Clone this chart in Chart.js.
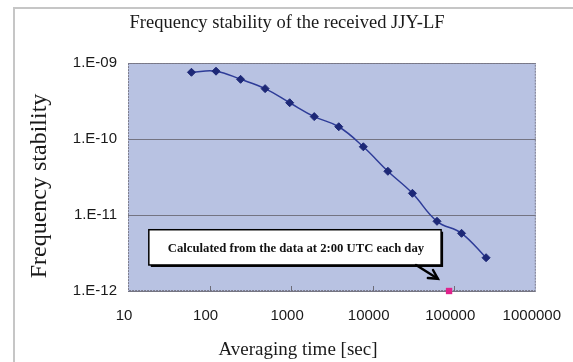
<!DOCTYPE html>
<html><head><meta charset="utf-8">
<script src="https://cdn.jsdelivr.net/npm/chart.js@4/dist/chart.umd.min.js"></script>
<style>html,body{margin:0;padding:0;background:#fff;overflow:hidden}canvas{display:block}</style>
</head><body>
<canvas id="c" width="573" height="362"></canvas>
<script>
const averagingTime = [60, 120, 240, 480, 960, 1920, 3840, 7680, 15360, 30720, 61440, 122880, 245760];
const stability = [7.55e-10, 7.8e-10, 6.1e-10, 4.6e-10, 3.0e-10, 1.97e-10, 1.45e-10, 7.9e-11, 3.76e-11, 1.93e-11, 8.26e-12, 5.74e-12, 2.74e-12];
const dailyTime = [86400];
const dailyStability = [1e-12];
const xTickValues = [10, 100, 1000, 10000, 100000, 1000000];
const xTickLabels = ['10', '100', '1000', '10000', '100000', '1000000'];
const yTickValues = [1e-12, 1e-11, 1e-10, 1e-9];
const yTickLabels = ['1.E-12', '1.E-11', '1.E-10', '1.E-09'];
const titleText = 'Frequency stability of the received JJY-LF';
const xTitle = 'Averaging time [sec]';
const yTitle = 'Frequency stability';
const noteText = 'Calculated from the data at 2:00 UTC each day';

const decor = {
  id: 'decor',
  beforeDraw(chart, args, opts) {
    const {ctx, chartArea: a} = chart;
    ctx.save();
    ctx.strokeStyle = '#c6c6c6'; ctx.lineWidth = 2;
    ctx.beginPath(); ctx.moveTo(14, 362); ctx.lineTo(14, 8); ctx.lineTo(573, 8); ctx.stroke();
    ctx.fillStyle = '#b8c2e2';
    ctx.fillRect(a.left, a.top, a.right - a.left, a.bottom - a.top);
    ctx.fillStyle = '#1a1a1a';
    ctx.textAlign = 'center'; ctx.textBaseline = 'middle';
    ctx.font = '18.5px "Liberation Serif"';
    ctx.fillText(titleText, opts.titleX, opts.titleY);
    ctx.restore();
  },
  beforeDatasetsDraw(chart, args, opts) {
    const {ctx, chartArea: a, scales} = chart;
    ctx.save();
    ctx.strokeStyle = '#7c7c8c'; ctx.lineWidth = 1; ctx.setLineDash([2, 1]);
    ctx.strokeRect(a.left + 0.5, a.top + 0.5, a.right - a.left - 1, a.bottom - a.top - 1);
    ctx.setLineDash([]);
    ctx.strokeStyle = '#6c6c78';
    xTickValues.slice(1, -1).forEach(v => {
      const x = Math.round(scales.x.getPixelForValue(v)) + 0.5;
      ctx.beginPath(); ctx.moveTo(x, a.bottom); ctx.lineTo(x, a.bottom - 5); ctx.stroke();
    });
    ctx.fillStyle = '#1a1a1a';
    ctx.textAlign = 'center'; ctx.textBaseline = 'middle';
    ctx.font = '19px "Liberation Serif"';
    ctx.fillText(xTitle, opts.xTitleX, opts.xTitleY);
    ctx.save();
    ctx.translate(opts.yTitleX, opts.yTitleY); ctx.rotate(-Math.PI / 2);
    ctx.font = '24px "Liberation Serif"';
    ctx.fillText(yTitle, 0, 0);
    ctx.restore();
    ctx.restore();
  },
  afterDatasetsDraw(chart, args, opts) {
    const {ctx, scales} = chart;
    const n = opts.note;
    const x1 = scales.x.getPixelForValue(n.x1), x2 = scales.x.getPixelForValue(n.x2);
    const y1 = scales.y.getPixelForValue(n.y1), y2 = scales.y.getPixelForValue(n.y2);
    ctx.save();
    ctx.fillStyle = '#000';
    ctx.fillRect(x1 + 2, y1 + 2, x2 - x1, y2 - y1);
    ctx.fillStyle = '#fff';
    ctx.fillRect(x1, y1, x2 - x1, y2 - y1);
    ctx.strokeStyle = '#000'; ctx.lineWidth = 1.5;
    ctx.strokeRect(x1, y1, x2 - x1, y2 - y1);
    ctx.fillStyle = '#111';
    ctx.font = 'bold 12.7px "Liberation Serif"';
    ctx.textAlign = 'center'; ctx.textBaseline = 'middle';
    ctx.fillText(noteText, (x1 + x2) / 2 + 1, (y1 + y2) / 2 + 1);
    const ax1 = scales.x.getPixelForValue(n.ax1), ay1 = y2;
    const ax2 = scales.x.getPixelForValue(n.ax2), ay2 = scales.y.getPixelForValue(n.ay2);
    ctx.strokeStyle = '#000'; ctx.lineWidth = 2.5; ctx.lineCap = 'round';
    ctx.beginPath(); ctx.moveTo(ax1, ay1); ctx.lineTo(ax2, ay2); ctx.stroke();
    const ang = Math.atan2(ay2 - ay1, ax2 - ax1), L = 10;
    ctx.beginPath();
    ctx.moveTo(ax2 - L * Math.cos(ang - 0.5), ay2 - L * Math.sin(ang - 0.5));
    ctx.lineTo(ax2, ay2);
    ctx.lineTo(ax2 - L * Math.cos(ang + 0.5), ay2 - L * Math.sin(ang + 0.5));
    ctx.stroke();
    ctx.restore();
  }
};

new Chart(document.getElementById('c'), {
  type: 'line',
  data: {
    datasets: [{
      data: averagingTime.map((t, i) => ({x: t, y: stability[i]})),
      borderColor: '#2e3c98', borderWidth: 1.5, tension: 0.4,
      pointStyle: 'rectRot', pointRadius: 4, pointBackgroundColor: '#1d2877', pointBorderColor: '#1d2877', pointBorderWidth: 1,
      fill: false
    }, {
      data: dailyTime.map((t, i) => ({x: t, y: dailyStability[i]})),
      showLine: false, clip: false,
      pointStyle: 'rect', pointRadius: 4.5, pointBackgroundColor: '#e0228c', pointBorderColor: '#e0228c', pointBorderWidth: 0
    }]
  },
  options: {
    responsive: false, animation: false,
    layout: {padding: {left: 0, right: 33, top: 63, bottom: 0}},
    plugins: {
      legend: {display: false}, tooltip: {enabled: false}, title: {display: false},
      decor: {
        titleX: 287, titleY: 23,
        xTitleX: 298, xTitleY: 350, yTitleX: 40, yTitleY: 186,
        note: {x1: 18, x2: 69000, y1: 6.4e-12, y2: 2.2e-12, ax1: 34000, ax2: 63000, ay2: 1.45e-12}
      }
    },
    scales: {
      x: {
        type: 'logarithmic', min: 10, max: 1000000,
        afterBuildTicks: s => { s.ticks = xTickValues.map(v => ({value: v})); },
        afterFit: s => { s.height = 71; },
        ticks: {callback: (v, i) => xTickLabels[i], autoSkip: false, maxRotation: 0, padding: 8, labelOffset: -4,
          color: '#1a1a1a', font: {family: '"Liberation Sans"', size: 15}},
        grid: {display: false}, border: {display: false}
      },
      y: {
        type: 'logarithmic', min: 1e-12, max: 1e-9,
        afterBuildTicks: s => { s.ticks = yTickValues.map(v => ({value: v})); },
        afterFit: s => { s.width = 128; },
        ticks: {callback: (v, i) => yTickLabels[i], autoSkip: false, padding: 11,
          color: '#1a1a1a', font: {family: '"Liberation Sans"', size: 15}},
        grid: {color: '#747482', lineWidth: 1, drawTicks: false}, border: {display: false}
      }
    }
  },
  plugins: [decor]
});
</script>
</body></html>
